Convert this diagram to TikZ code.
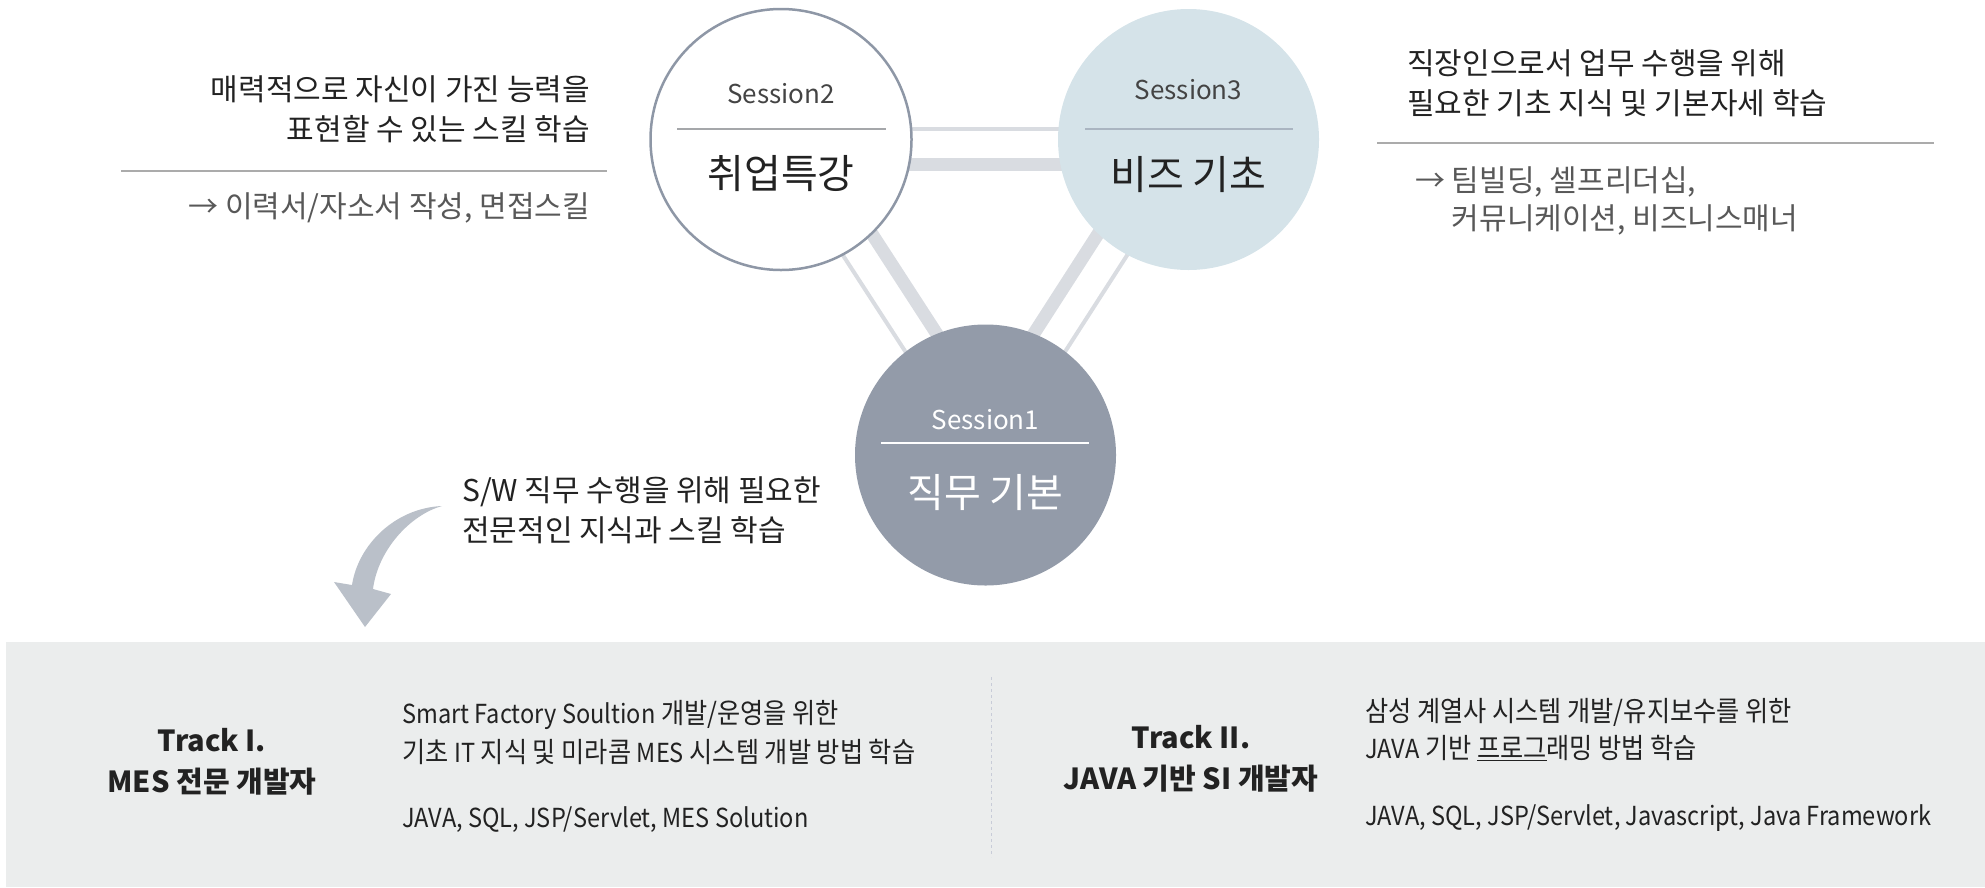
\documentclass[tikz,border=0pt]{standalone}
\usepackage{fontspec}
\setmainfont{Noto Sans CJK KR}
\newfontfamily\condfont{Noto Sans CJK KR}[FakeStretch=0.9]
\newcommand{\latseg}[1]{{\fontsize{26.2}{37}\selectfont #1}}
\usetikzlibrary{calc,backgrounds}
\definecolor{txt}{HTML}{222222}
\definecolor{subtxt}{HTML}{585858}
\definecolor{lbl}{HTML}{444444}
\definecolor{linkc}{HTML}{D9DCE1}
\definecolor{ringc}{HTML}{8E97A6}
\definecolor{bluec}{HTML}{D5E3E9}
\definecolor{darkc}{HTML}{939BA9}
\definecolor{rulec}{HTML}{ABABAB}
\definecolor{arrowc}{HTML}{BAC0C9}
\definecolor{panelc}{HTML}{EBEDED}
\definecolor{divc}{HTML}{C8CCD8}
\begin{document}
\begin{tikzpicture}[x=1pt,y=-1pt,
  sess/.style={circle, minimum size=261pt, inner sep=0pt},
  linkthin/.style={draw=linkc, line width=4pt},
  linkthick/.style={draw=linkc, line width=13pt},
  slabel/.style={font=\fontsize{26}{30}\selectfont, inner sep=0pt},
  stitle/.style={font=\fontsize{40}{46}\selectfont, inner sep=0pt},
  body/.style={font=\fontsize{30}{40}\selectfont, text=txt, inner sep=0pt},
  sub/.style={font=\fontsize{30}{38}\selectfont, text=subtxt, inner sep=0pt},
  track/.style={font=\fontsize{29}{41}\selectfont\bfseries, text=txt, inner sep=0pt, align=center},
  desc/.style={font=\condfont\fontsize{28}{37}\selectfont, text=txt, inner sep=0pt, anchor=west}
]
\useasboundingbox (0,0) rectangle (1985,887);

% session circles
\node[sess, draw=ringc, line width=2.5pt, fill=white] (s2) at (781,139.5) {};
\node[sess, fill=bluec] (s3) at (1188.5,139.5) {};
\node[sess, fill=darkc] (s1) at (985.5,455) {};

% double connectors behind the circles
\begin{scope}[on background layer]
\foreach \a/\b in {s2/s3, s3/s1, s1/s2} {
  \draw[linkthin] ($(\a.center)!11pt!90:(\b.center)$) -- ($(\b.center)!11pt!-90:(\a.center)$);
  \draw[linkthick] ($(\a.center)!25pt!-90:(\b.center)$) -- ($(\b.center)!25pt!90:(\a.center)$);
}
\end{scope}

% circle contents
\node[slabel, text=lbl] (s2l) at (781,94) {Session2};
\draw[rulec!80!ringc, line width=1.5pt] (677,129) -- (886,129);
\node[stitle, text=txt] (s2t) at (781,174) {취업특강};

\node[slabel, text=lbl] (s3l) at (1188.5,90) {Session3};
\draw[ringc!60!bluec, line width=1.5pt] (1085,129) -- (1293,129);
\node[stitle, text=txt] (s3t) at (1188.5,175) {비즈 기초};

\node[slabel, text=white] (s1l) at (985.5,420) {Session1};
\draw[white, line width=1.5pt] (881,443) -- (1089,443);
\node[stitle, text=white] (s1t) at (985.5,493) {직무 기본};

% left description
\node[body, align=right, anchor=east] (d2) at (590,109) {매력적으로 자신이 가진 능력을\\표현할 수 있는 스킬 학습};
\draw[rulec, line width=1.5pt] (121,171) -- (607,171);
\node[sub, anchor=east] (d2b) at (590,208) {→ 이력서/자소서 작성, 면접스킬};

% right description
\node[body, align=left, anchor=west] (d3) at (1407,83) {직장인으로서 업무 수행을 위해\\필요한 기초 지식 및 기본자세 학습};
\draw[rulec, line width=1.5pt] (1377,143) -- (1934,143);
\node[sub, align=left, anchor=west] (d3b) at (1415,201) {→ 팀빌딩, 셀프리더십,\\\phantom{→ }커뮤니케이션, 비즈니스매너};

% session1 description
\node[body, align=left, anchor=west] (d1) at (462,510) {S/W 직무 수행을 위해 필요한\\전문적인 지식과 스킬 학습};

% curved arrow
\fill[arrowc] (442,506) .. controls (395,508) and (358,545) .. (352,585)
  -- (334,582) -- (365,627) -- (391,594) -- (373,589)
  .. controls (378,550) and (410,515) .. (442,506) -- cycle;

% bottom panel
\fill[panelc] (6,642) rectangle (1985,887);
\draw[divc, line width=1pt, dash pattern=on 3pt off 3pt] (991,677) -- (991,857);

\node[track] (t1) at (212,762) {Track I.\\MES 전문 개발자};
\node[desc] (t1a) at (402,715) {\latseg{Smart Factory Soultion} 개발/운영을 위한};
\node[desc] (t1b) at (402,752) {기초 \latseg{IT} 지식 및 미라콤 \latseg{MES} 시스템 개발 방법 학습};
\node[desc] (t1c) at (402,820) {\latseg{JAVA, SQL, JSP/Servlet, MES Solution}};

\node[track] (t2) at (1191,759) {Track II.\\JAVA 기반 SI 개발자};
\node[desc] (t2a) at (1365,712) {삼성 계열사 시스템 개발/유지보수를 위한};
\node[desc] (t2b) at (1365,748) {\latseg{JAVA} 기반 \underline{프로그}래밍 방법 학습};
\node[desc] (t2c) at (1365,818) {\latseg{JAVA, SQL, JSP/Servlet, Javascript, Java Framework}};
\end{tikzpicture}
\end{document}
